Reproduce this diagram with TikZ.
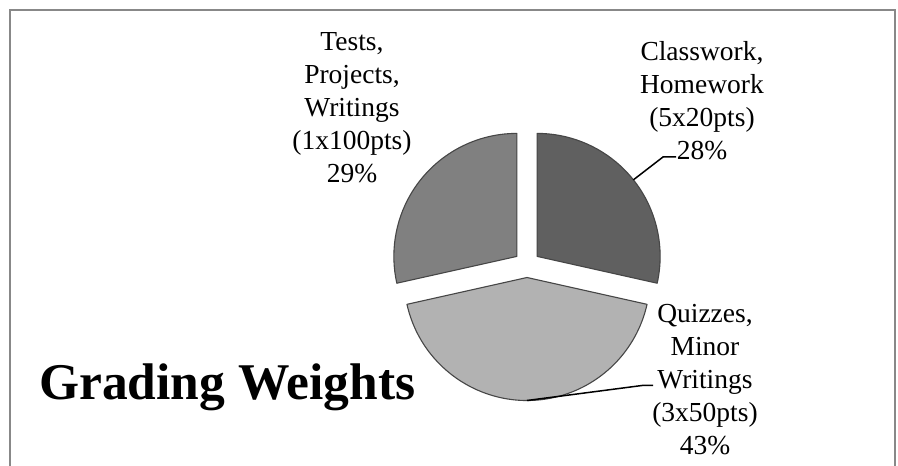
\documentclass[tikz,border=0pt]{standalone}
\usepackage{fontspec}
\setmainfont{Liberation Serif}
\usetikzlibrary{calc}
\definecolor{framegray}{RGB}{136,136,136}
\definecolor{cwfill}{RGB}{96,96,96}
\definecolor{tpfill}{RGB}{128,128,128}
\definecolor{qzfill}{RGB}{178,178,178}
\definecolor{edgegray}{RGB}{70,70,70}
\tikzset{
  slice/.style={draw=edgegray, line width=1.1pt, line join=round},
  lbl/.style={align=center, inner sep=0pt, anchor=north, font=\fontsize{27.5}{33}\selectfont},
  leader/.style={draw=black, line width=1.5pt},
  frameline/.style={draw=framegray, line width=2.2pt}
}
\begin{document}
\begin{tikzpicture}[x=1pt,y=1pt]
\useasboundingbox (0,0) rectangle (898,466);
\fill[white] (0,0) rectangle (898,466);
% frame
\draw[frameline] (10,-5) -- (10,456) -- (895,456) -- (895,-5);
% pie (center 527,201.5; r=123; explode 13)
\def\R{123}
\coordinate (cwapex) at (537.15,209.6);
\coordinate (tpapex) at (516.85,209.6);
\coordinate (qzapex) at (527,188.5);
\fill[cwfill] (cwapex) -- ++(-12.6:\R) arc[start angle=-12.6, end angle=90, radius=\R] -- cycle;
\draw[slice] (cwapex) -- ++(-12.6:\R) arc[start angle=-12.6, end angle=90, radius=\R] -- cycle;
\fill[tpfill] (tpapex) -- ++(90:\R) arc[start angle=90, end angle=192.6, radius=\R] -- cycle;
\draw[slice] (tpapex) -- ++(90:\R) arc[start angle=90, end angle=192.6, radius=\R] -- cycle;
\fill[qzfill] (qzapex) -- ++(192.6:\R) arc[start angle=192.6, end angle=347.4, radius=\R] -- cycle;
\draw[slice] (qzapex) -- ++(192.6:\R) arc[start angle=192.6, end angle=347.4, radius=\R] -- cycle;
% labels
\node[lbl] (tp) at (352,439.1) {\strut Tests,\\Projects,\\Writings\\(1x100pts)\\29\%};
\node[lbl] (cw) at (702,429.1) {\strut Classwork,\\Homework\\(5x20pts)\\28\%};
\node[lbl] (qz) at (705,167.1) {\strut Quizzes,\\Minor\\Writings\\(3x50pts)\\43\%};
\node[inner sep=0pt, anchor=base west, font=\fontsize{51.5}{55}\selectfont\bfseries] (title) at (39,66) {Grading Weights};
% leader lines
\coordinate (cwtip) at ($(cwapex)+(38.5:\R)$);
\coordinate (cwbend) at (663,309);
\coordinate (cwend) at (676,309);
\draw[leader] (cwtip) -- (cwbend) -- (cwend);
\coordinate (qztip) at ($(qzapex)+(-90:\R)$);
\coordinate (qzbend) at (642,80.5);
\coordinate (qzend) at (653,80.5);
\draw[leader] (qztip) -- (qzbend) -- (qzend);
\end{tikzpicture}
\end{document}
